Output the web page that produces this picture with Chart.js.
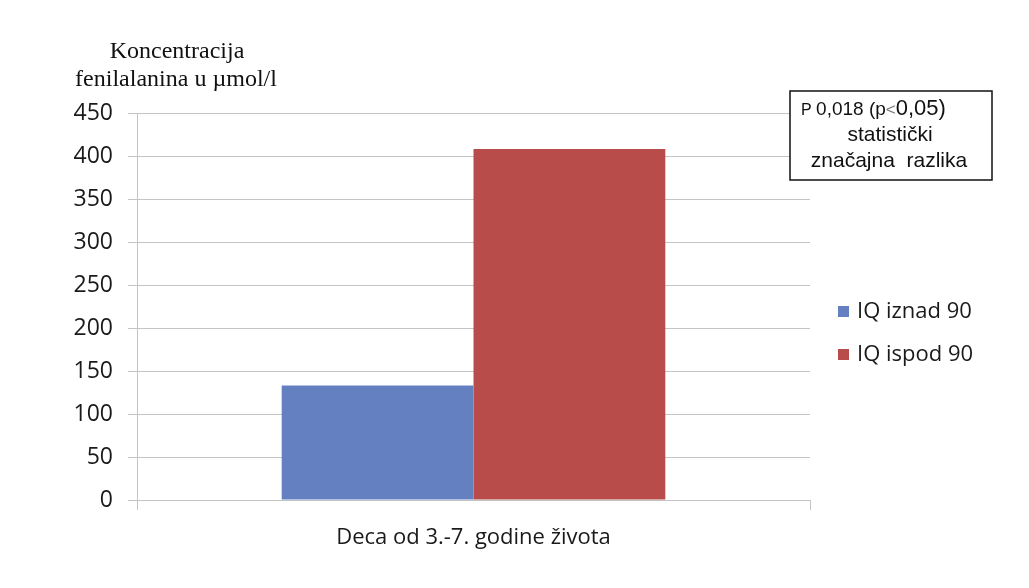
<!DOCTYPE html>
<html>
<head>
<meta charset="utf-8">
<script src="https://cdn.jsdelivr.net/npm/chart.js@4.4.1/dist/chart.umd.min.js"></script>
<style>
  html, body { margin: 0; padding: 0; background: #ffffff; }
  #wrap { width: 1029px; height: 588px; position: relative; }
</style>
</head>
<body>
<div id="wrap"><canvas id="c" width="1029" height="588"></canvas></div>
<script>
// Category and series values
const categories = ['Deca od 3.-7. godine života'];
const seriesNames = ['IQ iznad 90', 'IQ ispod 90'];
const iqAbove90 = [133];
const iqBelow90 = [408];
const yTicks = [0, 50, 100, 150, 200, 250, 300, 350, 400, 450];
const yTitleLines = ['Koncentracija', 'fenilalanina u \u00b5mol/l'];
const noteLines = ['P ', '0,018 (p', '<', '0,05)', 'statistički', 'značajna  razlika'];

const COLORS = ['#6580C1', '#B84C4A'];
const GRID = '#C4C4C4';
const SANS = '"Open Sans", "Liberation Sans", sans-serif';
const ARIAL = '"Liberation Sans", Arial, sans-serif';

// Y-axis title, statistics note and legend drawn on top of the chart
const extras = {
  id: 'extras',
  afterDraw(chart) {
    const ctx = chart.ctx;
    ctx.save();

    // axis title (two serif lines)
    ctx.fillStyle = '#111';
    ctx.font = '24px "Liberation Serif", "Times New Roman", serif';
    ctx.textAlign = 'center';
    ctx.textBaseline = 'alphabetic';
    ctx.fillText(yTitleLines[0], 177, 58);
    ctx.fillText(yTitleLines[1], 176, 86);

    // statistics note box
    ctx.fillStyle = '#ffffff';
    ctx.fillRect(790, 91, 202, 89);
    ctx.strokeStyle = '#111';
    ctx.lineWidth = 1.5;
    ctx.strokeRect(790, 91, 202, 89);

    // first line mixes several sizes
    ctx.textAlign = 'left';
    const parts = [
      { t: noteLines[0], size: 16, color: '#111' },
      { t: noteLines[1], size: 19, color: '#111' },
      { t: noteLines[2], size: 17, color: '#777' },
      { t: noteLines[3], size: 22, color: '#111' }
    ];
    let x = 801;
    parts.forEach(p => {
      ctx.font = p.size + 'px ' + ARIAL;
      ctx.fillStyle = p.color;
      ctx.fillText(p.t, x, 115);
      x += ctx.measureText(p.t).width;
    });
    ctx.fillStyle = '#111';
    ctx.textAlign = 'center';
    ctx.font = '21px ' + ARIAL;
    ctx.fillText(noteLines[4], 890, 141);
    ctx.fillText(noteLines[5], 889, 167);

    // legend
    ctx.textAlign = 'left';
    ctx.font = '22px ' + SANS;
    chart.data.datasets.forEach((ds, i) => {
      const y = 306 + i * 43;
      ctx.fillStyle = ds.backgroundColor;
      ctx.fillRect(838, y, 11, 11);
      ctx.fillStyle = '#1a1a1a';
      ctx.fillText(ds.label, 857, y + 12);
    });

    ctx.restore();
  }
};

new Chart(document.getElementById('c'), {
  type: 'bar',
  data: {
    labels: categories,
    datasets: [
      { label: seriesNames[0], data: iqAbove90, backgroundColor: COLORS[0] },
      { label: seriesNames[1], data: iqBelow90, backgroundColor: COLORS[1] }
    ]
  },
  options: {
    responsive: false,
    animation: false,
    devicePixelRatio: 1,
    layout: { padding: { top: 113, right: 219, bottom: 0, left: 0 } },
    datasets: { bar: { categoryPercentage: 0.57, barPercentage: 1.0 } },
    plugins: {
      legend: { display: false },
      tooltip: { enabled: false },
      title: { display: false }
    },
    scales: {
      x: {
        grid: { display: true, offset: true, drawOnChartArea: false, tickLength: 10, color: GRID },
        border: { display: true, color: GRID },
        ticks: { color: '#1a1a1a', font: { family: SANS, size: 22 }, padding: 15 },
        afterFit(scale) { scale.height = 88; }
      },
      y: {
        min: 0,
        max: 450,
        afterBuildTicks(scale) { scale.ticks = yTicks.map(v => ({ value: v })); },
        grid: { color: GRID, tickLength: 9 },
        border: { display: true, color: GRID },
        ticks: { color: '#1a1a1a', font: { family: SANS, size: 23 }, padding: 15 },
        afterFit(scale) { scale.width = 137; }
      }
    }
  },
  plugins: [extras]
});
</script>
</body>
</html>
